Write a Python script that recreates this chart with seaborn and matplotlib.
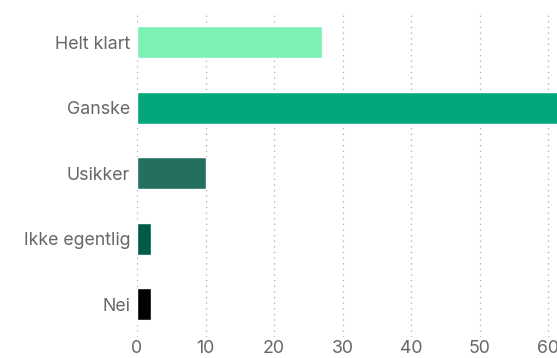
import matplotlib
matplotlib.use("Agg")
import matplotlib.pyplot as plt
import seaborn as sns
import pandas as pd

categories = ["Helt klart", "Ganske", "Usikker", "Ikke egentlig", "Nei"]
values = [27, 62, 10, 2, 2]
colors = ["#7BF1B4", "#04A77D", "#237060", "#005C45", "#000000"]
ticks = [0, 10, 20, 30, 40, 50, 60]

sns.set_theme(style="white")
plt.rcParams["font.family"] = ["Inter", "DejaVu Sans"]

df = pd.DataFrame({"cat": categories, "val": values})

fig = plt.figure(figsize=(5.57, 3.58), dpi=100)
ax = fig.add_axes([137/557, 21/358, 420/557, 325/358])
sns.barplot(data=df, y="cat", x="val", hue="cat", palette=colors, order=categories,
            hue_order=categories, orient="h", width=0.49, legend=False, ax=ax,
            saturation=1)
ax.set_xlim(0, 60*420/411)
ax.set_ylim(4.5, -0.46)
ax.set_xticks(ticks)
ax.set_xlabel("")
ax.set_ylabel("")
for s in ax.spines.values():
    s.set_visible(False)
ax.grid(axis="x", linestyle=(0, (1, 3.5)), color="#aaaaaa", linewidth=0.9)
ax.grid(axis="y", visible=False)
ax.set_axisbelow(True)
ax.tick_params(axis="both", length=0, labelsize=12.8, colors="#666666")
ax.tick_params(axis="y", pad=5)
ax.tick_params(axis="x", pad=2.5)
fig.savefig("out.png", dpi=100)
